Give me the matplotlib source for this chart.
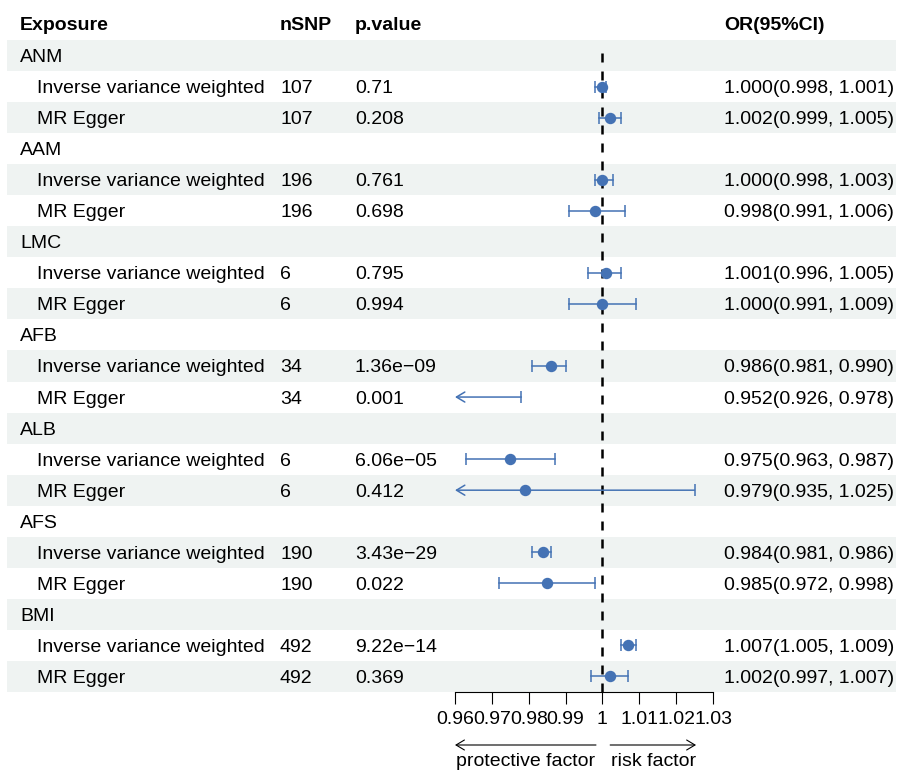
import matplotlib
matplotlib.use("Agg")
import matplotlib.pyplot as plt
from matplotlib import transforms

plt.rcParams['font.family'] = ['Liberation Sans', 'DejaVu Sans']

# table data
exposures = ["ANM", "AAM", "LMC", "AFB", "ALB", "AFS", "BMI"]
methods = ["Inverse variance weighted", "MR Egger"]
nsnp = [107, 107, 196, 196, 6, 6, 34, 34, 6, 6, 190, 190, 492, 492]
pvals = ["0.71", "0.208", "0.761", "0.698", "0.795", "0.994",
         "1.36e\u221209", "0.001", "6.06e\u221205", "0.412",
         "3.43e\u221229", "0.022", "9.22e\u221214", "0.369"]
or_est = [1.000, 1.002, 1.000, 0.998, 1.001, 1.000, 0.986, 0.952,
          0.975, 0.979, 0.984, 0.985, 1.007, 1.002]
or_lo = [0.998, 0.999, 0.998, 0.991, 0.996, 0.991, 0.981, 0.926,
         0.963, 0.935, 0.981, 0.972, 1.005, 0.997]
or_hi = [1.001, 1.005, 1.003, 1.006, 1.005, 1.009, 0.990, 0.978,
         0.987, 1.025, 0.986, 0.998, 1.009, 1.007]
ticks = [0.96, 0.97, 0.98, 0.99, 1.00, 1.01, 1.02, 1.03]
tick_labels = ["0.96", "0.97", "0.98", "0.99", "1", "1.01", "1.02", "1.03"]

blue = "#4472B4"
band = "#eff3f2"
fs = 14

W, H = 902, 771
fig = plt.figure(figsize=(W / 100, H / 100), dpi=100)
ax = fig.add_axes([0, (H - 692) / H, 1, 692 / H])

# x scale: 0.96 sits at 455 px, 1.03 at 713 px
pxu = (713 - 455) / 0.07
ax.set_xlim(0.96 - 455 / pxu, 0.96 + (W - 455) / pxu)
rowh = 31.05
ax.set_ylim(21.5, 0.5 - 40 / rowh)

trans = transforms.blended_transform_factory(fig.transFigure, ax.transData)
va = "center_baseline"

# header
for x, t in [(20, "Exposure"), (280, "nSNP"), (355, "p.value"), (724, "OR(95%CI)")]:
    ax.text(x / W, -0.03, t, transform=trans, fontsize=fs, fontweight="bold", va=va)

# rows
r = 0
k = 0
for g in exposures:
    r += 1
    if r % 2 == 1:
        ax.axhspan(r - 0.5, r + 0.5, xmin=7 / W, xmax=896 / W, color=band, lw=0, zorder=0)
    ax.text(20 / W, r, g, transform=trans, fontsize=fs, va=va)
    for m in methods:
        r += 1
        if r % 2 == 1:
            ax.axhspan(r - 0.5, r + 0.5, xmin=7 / W, xmax=896 / W, color=band, lw=0, zorder=0)
        ax.text(37 / W, r, m, transform=trans, fontsize=fs, va=va)
        ax.text(280 / W, r, str(nsnp[k]), transform=trans, fontsize=fs, va=va)
        ax.text(355 / W, r, pvals[k], transform=trans, fontsize=fs, va=va)
        ax.text(724 / W, r, "%.3f(%.3f, %.3f)" % (or_est[k], or_lo[k], or_hi[k]),
                transform=trans, fontsize=fs, va=va)

        lo, hi, est = or_lo[k], or_hi[k], or_est[k]
        if lo < ticks[0]:
            ax.annotate("", xy=(ticks[0], r), xytext=(hi, r),
                        arrowprops=dict(arrowstyle="->,head_length=0.6,head_width=0.36",
                                        color=blue, lw=1.1, shrinkA=0, shrinkB=0), zorder=3)
        else:
            ax.plot([lo, hi], [r, r], color=blue, lw=1.1, zorder=3)
            ax.plot([lo], [r], marker="|", ms=8, mew=1.1, color=blue, zorder=3)
        ax.plot([hi], [r], marker="|", ms=8, mew=1.1, color=blue, zorder=3)
        if ticks[0] <= est <= ticks[-1]:
            ax.plot([est], [r], "o", ms=7.2, color=blue, zorder=4)
        k += 1

# reference line at OR = 1
ax.vlines(1, 0.92, 21.5, colors="black", lw=1.8, linestyles=(0, (3.6, 3.6)), zorder=2)

# bottom axis
for s in ["top", "left", "right"]:
    ax.spines[s].set_visible(False)
ax.spines["bottom"].set_bounds(ticks[0], ticks[-1])
ax.spines["bottom"].set_linewidth(0.8)
ax.set_xticks(ticks, tick_labels)
ax.tick_params(axis="x", length=8.6, width=0.8, labelsize=fs, pad=4.8)
ax.set_yticks([])

# protective / risk arrows
t2 = transforms.blended_transform_factory(ax.transData, fig.transFigure)
ya = (H - 745) / H
yt = (H - 760) / H
ap = dict(arrowstyle="->,head_length=0.6,head_width=0.36", color="black", lw=0.8,
          shrinkA=0, shrinkB=0)
ax.annotate("", xy=(0.96, ya), xytext=(0.99825, ya), xycoords=t2, textcoords=t2, arrowprops=ap)
ax.annotate("", xy=(1.0254, ya), xytext=(1.0021, ya), xycoords=t2, textcoords=t2, arrowprops=ap)
ax.text(0.97913, yt, "protective factor", transform=t2, fontsize=fs, ha="center", va=va)
ax.text(1.0138, yt, "risk factor", transform=t2, fontsize=fs, ha="center", va=va)

fig.savefig("out.png", dpi=100)
